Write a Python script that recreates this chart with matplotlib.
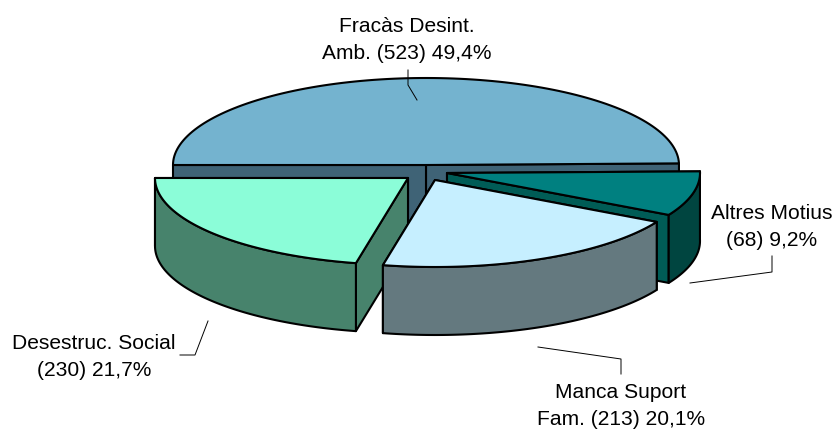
import numpy as np
import matplotlib
matplotlib.use("Agg")
import matplotlib.pyplot as plt
from matplotlib.patches import Polygon

# data
categories = ["Fracàs Desint.\nAmb. (523) 49,4%", "Altres Motius\n(68) 9,2%",
              "Manca Suport\nFam. (213) 20,1%", "Desestruc. Social\n(230) 21,7%"]
slice_shares = [49.7, 8.3, 20.3, 21.7]   # drawn share of the ring, percent

# styles and layout
START = 180.0
RX, RY, DEPTH = 253, 87, 68
centers = [(426, 165), (447, 173), (435, 180), (408, 178)]
top_cols = ["#74b3cf", "#008080", "#c6efff", "#8bfdd8"]
side_cols = ["#3f6376", "#004540", "#64797f", "#47836c"]
face_cols = ["#3f6376", "#005c56", "#64797f", "#47836c"]
label_xy = [(407, 59), (772, 246), (621, 425), (94, 376)]
leaders = [[(408, 70), (408, 85), (417, 100)],
           [(772, 256), (772, 272), (690, 283)],
           [(621, 374), (621, 359), (538, 347)],
           [(208, 321), (195, 355), (180, 355)]]
draw_order = [0, 1, 3, 2]

plt.rcParams["font.family"] = ["Liberation Sans", "DejaVu Sans"]
fig = plt.figure(figsize=(8.36, 4.29), dpi=100)
ax = fig.add_axes([0, 0, 1, 1])
ax.set_xlim(0, 836)
ax.set_ylim(429, 0)
ax.axis("off")

LW = 1.5


def pts(c, t1, t2, n=120):
    t = np.radians(np.linspace(t1, t2, n))
    return np.column_stack([c[0] + RX * np.cos(t), c[1] - RY * np.sin(t)])


def poly(p, col, z):
    ax.add_patch(Polygon(p, closed=True, fc=col, ec="black", lw=LW, joinstyle="round", zorder=z))


down = np.array([0, DEPTH])
edges = START - np.concatenate([[0], np.cumsum(slice_shares)]) * 3.6
for z, i in enumerate(draw_order, start=2):
    t1, t2 = edges[i], edges[i + 1]
    c = np.array(centers[i], float)
    # radial cut faces, rear one first
    for t in sorted((t1, t2), key=lambda a: -np.sin(np.radians(a))):
        e = pts(c, t, t, 1)[0]
        poly([c, e, e + down, c + down], face_cols[i], z)
    # outer wall: the first slice's wall is turned away from the viewer
    if i != 0:
        arc = pts(c, t1, t2)
        poly(np.vstack([arc, (arc + down)[::-1]]), side_cols[i], z)
    # top
    poly(np.vstack([[c], pts(c, t1, t2)]), top_cols[i], z)

for name, (x, y) in zip(categories, label_xy):
    ax.text(x, y, name, ha="center", va="baseline", ma="center", fontsize=15.1,
            linespacing=1.52, color="black", zorder=10)
for line in leaders:
    p = np.array(line)
    ax.plot(p[:, 0], p[:, 1], color="black", lw=0.7, zorder=9)

fig.savefig("out.png", dpi=100, facecolor="white")
